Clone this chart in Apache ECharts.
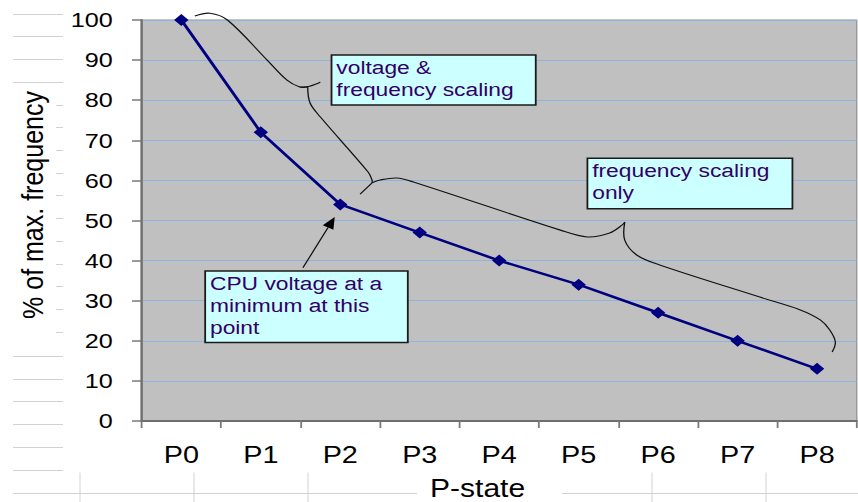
<!DOCTYPE html>
<html>
<head>
<meta charset="utf-8">
<script src="https://cdn.jsdelivr.net/npm/echarts@6/dist/echarts.min.js"></script>
<style>
  html, body { margin: 0; padding: 0; background: #fff; overflow: hidden; }
  #wrap { position: relative; width: 858px; height: 502px; }
  #sheet { position: absolute; left: 0; top: 0; }
  /* the chart is laid out narrow and widened, like an embedded spreadsheet chart */
  #chart { position: absolute; left: 0; top: 0; width: 715px; height: 502px;
           transform: scaleX(1.2); transform-origin: 0 0; }
</style>
</head>
<body>
<div id="wrap">
  <svg id="sheet" width="858" height="502"></svg>
  <div id="chart"></div>
</div>
<script>
// P-states and the share of the maximum clock frequency at each one
const pStates = ['P0', 'P1', 'P2', 'P3', 'P4', 'P5', 'P6', 'P7', 'P8'];
const freqPct = [100, 72, 54, 47, 40, 34, 27, 20, 13];
const yMin = 0, yMax = 100, yStep = 10;

// callout braces, in (category index, percent) units
const braceVoltage = [
  [[0.17, 101.0], [0.36, 101.7], [0.58, 100.0], [1.08, 90.0], [1.33, 85.0], [1.49, 83.3], [1.59, 83.3]],
  [[1.49, 83.3], [1.60, 83.4], [1.75, 84.5]],
  [[1.59, 83.3], [1.62, 79.3], [1.75, 75.8], [2.35, 62.1], [2.40, 60.1], [2.40, 59.4]],
  [[2.40, 59.4], [2.25, 56.6]]
];
const braceFreqOnly = [
  [[2.40, 59.4], [2.50, 60.1], [2.71, 60.6], [2.92, 59.6], [4.77, 47.6], [5.11, 45.9], [5.39, 46.9], [5.55, 48.9], [5.58, 49.6]],
  [[5.58, 49.6], [5.58, 45.1], [5.73, 41.4], [6.02, 38.9], [7.28, 30.9], [7.79, 27.7], [8.04, 25.2], [8.16, 22.7], [8.23, 19.7], [8.19, 17.2]]
];
const cpuArrow = [[1.53, 38.2], [1.93, 50.9]];

// text boxes: corner to corner, in the same units
const notes = [
  { text: 'voltage &\nfrequency scaling', from: [1.89, 91.3], to: [4.46, 78.8] },
  { text: 'frequency scaling\nonly', from: [5.11, 65.5], to: [7.69, 52.9] },
  { text: 'CPU voltage at a\nminimum at this\npoint', from: [0.30, 37.4], to: [2.85, 19.6] }
];

// worksheet cell borders around the embedded chart
(function drawSheet() {
  const svg = document.getElementById('sheet');
  const segs = [];
  [14, 36, 59, 82, 356, 379, 401, 424, 447, 470].forEach(y => segs.push([13, y, 63, y]));
  [105, 127, 150, 173, 195, 218, 241, 264, 286, 309, 332].forEach(y => segs.push([56, y, 63, y]));
  segs.push([13, 493, 417, 493], [562, 493, 858, 493]);
  [80, 194, 308, 652, 766].forEach(x => segs.push([x, 472, x, 502]));
  svg.innerHTML = segs.map(s =>
    `<line x1="${s[0]}" y1="${s[1] + 0.5}" x2="${s[2]}" y2="${s[3] + 0.5}" stroke="#D2D2D2" stroke-width="1"/>`
  ).join('');
})();

const FONT = '"Liberation Sans", Arial, Helvetica, sans-serif';
const chart = echarts.init(document.getElementById('chart'), null, { renderer: 'svg' });

chart.setOption({
  animation: false,
  grid: {
    left: 118, right: 1, top: 20, bottom: 81,
    outerBoundsMode: 'none',
    show: true, backgroundColor: '#C0C0C0', borderColor: '#8C8C8C', borderWidth: 1
  },
  xAxis: {
    type: 'category',
    data: pStates,
    boundaryGap: true,
    axisLine: { lineStyle: { color: '#6E6E6E', width: 2 } },
    axisTick: { show: true, length: 7, lineStyle: { color: '#7A7A7A', width: 1.5 } },
    axisLabel: { color: '#000', fontSize: 24, fontFamily: FONT, margin: 22 },
    splitLine: { show: false },
    name: 'P-state',
    nameLocation: 'middle',
    nameGap: 55,
    nameTextStyle: { color: '#000', fontSize: 25, lineHeight: 24, fontFamily: FONT, padding: [0, 36, 0, 0] }
  },
  yAxis: {
    type: 'value',
    min: yMin, max: yMax, interval: yStep,
    axisLine: { show: true, lineStyle: { color: '#6E6E6E', width: 2 } },
    axisTick: { show: true, length: 8, lineStyle: { color: '#7A7A7A', width: 1.5 } },
    axisLabel: { color: '#000', fontSize: 21, fontFamily: FONT, margin: 24 },
    splitLine: { show: true, lineStyle: { color: '#8DB4E2', width: 1 } },
    name: '% of max. frequency',
    nameLocation: 'middle',
    nameRotate: 90,
    nameGap: 78,
    nameTextStyle: { color: '#000', fontSize: 25, fontFamily: FONT, padding: [0, 0, 0, 31] }
  },
  series: [{
    type: 'line',
    data: freqPct,
    symbol: 'diamond',
    symbolSize: 12,
    itemStyle: { color: '#000080' },
    lineStyle: { color: '#000080', width: 2.5 },
    z: 3
  }]
});

// map (category index, percent) to pixels; fractional indices interpolate between categories
const o = chart.convertToPixel({ gridIndex: 0 }, [0, 0]);
const u = chart.convertToPixel({ gridIndex: 0 }, [1, 100]);
const px = ([i, v]) => [o[0] + i * (u[0] - o[0]), o[1] + (v / 100) * (u[1] - o[1])];

const graphics = [];
const stroke = { stroke: '#111', lineWidth: 1.1, fill: null };

[...braceVoltage, ...braceFreqOnly].forEach(piece => {
  graphics.push({
    type: 'polyline', z: 50, silent: true,
    shape: { points: piece.map(px), smooth: 0.35 },
    style: stroke
  });
});

// arrow from the lower box up to the P2 point
const a0 = px(cpuArrow[0]), a1 = px(cpuArrow[1]);
const dx = a1[0] - a0[0], dy = a1[1] - a0[1], len = Math.hypot(dx, dy);
const ux = dx / len, uy = dy / len, headL = 12, headW = 5;
const base = [a1[0] - ux * headL, a1[1] - uy * headL];
graphics.push({
  type: 'line', z: 50, silent: true,
  shape: { x1: a0[0], y1: a0[1], x2: base[0], y2: base[1] },
  style: { stroke: '#111', lineWidth: 1.1 }
});
graphics.push({
  type: 'polygon', z: 50, silent: true,
  shape: { points: [a1, [base[0] - uy * headW, base[1] + ux * headW], [base[0] + uy * headW, base[1] - ux * headW]] },
  style: { fill: '#000' }
});

notes.forEach(n => {
  const p = px(n.from), q = px(n.to);
  graphics.push({
    type: 'rect', z: 60, silent: true,
    shape: { x: p[0], y: p[1], width: q[0] - p[0], height: q[1] - p[1] },
    style: { fill: '#CCFFFF', stroke: '#1A1A1A', lineWidth: 1.5 }
  });
  graphics.push({
    type: 'text', z: 61, silent: true,
    x: p[0] + 4, y: p[1] + 1,
    style: {
      text: n.text, fill: '#330066', fontSize: 19, fontFamily: FONT,
      lineHeight: 22, align: 'left', verticalAlign: 'top'
    }
  });
});

chart.setOption({ graphic: graphics });
</script>
</body>
</html>
